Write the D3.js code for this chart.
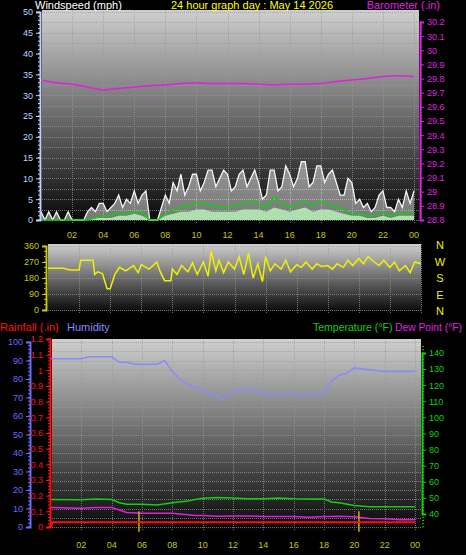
<!DOCTYPE html>
<html><head><meta charset="utf-8">
<script src="https://cdn.jsdelivr.net/npm/d3@7"></script>
<style>body{margin:0;background:#000}svg{display:block;font-family:"Liberation Sans",Arial,sans-serif}</style>
</head><body><div id="chart"></div>
<script>
// hours of day for half-hourly and quarter-hourly series
const halfHours = d3.range(0, 24.01, 0.5);
const quarterHours = d3.range(0, 24.01, 0.25);
const gust = [2,0,2,0,2,0,0,2, 0,0,0,0,2,3,2,4, 4,2,3,4,6,3,5,4, 7,4,6,7,0,0,0,3,
  6,4,9,7,11,6,8,11, 11,7,9,12,12,8,10,12, 11,7,8,11,12,8,10,12, 9,5,6,12,12,7,8,13,
  11,8,10,14,14,8,9,13, 13,9,11,12,9,6,6,10, 9,4,5,3,4,2,3,6, 7,3,3,2,5,3,7,4, 7];
const avgWind = [0,0,0,0,0,0,0,0.5,1,1,2,1.5,2,2,0,0,1.5,2.5,3,3.5,4,4,3.5,3,3,3.5,4,4.5,4,3,5.5,4,3,4,4.5,3.5,4.5,4,3,2.5,1.5,1.5,1,1,2,1,1.5,1.5,2];
const windSpeed = [0,0,0,0,0,0,0,0.5,0.5,0.5,1,1,1.5,1,0,0,1,1.5,2,2,2.5,2.5,2,2,2,2,2.5,2.5,2.5,2,3,2.5,2,2.5,3,2,2.5,2.5,2,1.5,1,1,0.5,0.5,1,0.5,1,1,1];
const baroHours = d3.range(0, 25);
const barometer = [29.79,29.77,29.76,29.74,29.72,29.73,29.74,29.75,29.755,29.765,29.77,29.765,29.765,29.765,29.76,29.755,29.76,29.76,29.765,29.78,29.79,29.80,29.815,29.82,29.815];
const dirHours = [0,1,1.4,2,2.1,2.9,3.0,3.2,3.5,3.8,4,4.3,4.6,5,5.5,5.8,6,6.5,7,7.2,7.5,7.9,8,8.3,8.6,9,9.3,9.6,10,10.3,10.5,10.8,11,11.3,11.6,12,12.3,12.6,12.9,13.2,13.5,13.8,14,14.3,14.6,15,15.3,15.6,16,16.3,16.6,17,17.3,17.6,18,18.3,18.6,19,19.3,19.6,20,20.3,20.6,21,21.3,21.6,22,22.3,22.6,23,23.3,23.6,24];
const windDir = [235,235,225,225,280,280,200,215,205,120,120,200,240,220,250,210,255,230,270,220,165,165,230,200,250,215,265,200,270,190,330,220,280,210,270,230,300,200,320,180,260,160,300,220,260,230,280,215,255,240,270,230,260,245,250,230,260,240,280,250,290,260,300,270,250,280,240,270,220,250,210,270,260];
const humHours = [0,1,2,2.5,3,4,4.5,5,5.5,6,7,7.5,8,8.5,9,9.5,10,10.5,11,11.3,12,13,13.5,14,14.5,15,16,16.5,17,17.5,18,18.5,19,19.5,20,21,22,23,24];
const humidity = [91,91,91,92,92,92,89,89,88,88,88,90,84,80,77,76,74,72,71,69,73,75,73,73,71,72,72,71,72,72,72,79,82,83,86,85,84,84,84];
const tempHours = [0,2,3,4,4.5,5,6,7,8,9,9.5,10,11,12,13,14,15,16,17,18,18.5,19,20,21,22,23,24];
const temperature = [49,48.8,49.3,49,47,46,46,45.6,47,48,49,49.8,50.3,50,49.5,49.5,50,49.5,49.3,49.3,47.5,47,45.3,44.5,44.5,44.5,44.5];
const dewPoint = [44,43.5,44,44,42.5,41,40.5,40.5,40.5,39.5,39,39,38.6,38.8,38.8,38.5,38.5,38.5,38,38.5,38.5,38.6,38.3,37.2,37,36.5,36.5];
const rainHours = [0,0.1,24];
const rainfall = [0,0.03,0.03];
const rainMarks = [5.8,20.3];
const hourTicks = [2,4,6,8,10,12,14,16,18,20,22,24];
const fmtHour = h => d3.format("02")(h % 24);

const svg = d3.select("#chart").append("svg").attr("width",466).attr("height",555);
const defs = svg.append("defs");
const grad = defs.append("linearGradient").attr("id","bg").attr("x1",0).attr("x2",0).attr("y1",0).attr("y2",1);
grad.append("stop").attr("offset","0%").attr("stop-color","#cfcfcf");
grad.append("stop").attr("offset","100%").attr("stop-color","#050505");

function panel(x0,x1,y0,y1){
  svg.append("rect").attr("x",x0).attr("y",y0).attr("width",x1-x0).attr("height",y1-y0).attr("fill","url(#bg)");
}
function grid(x, y, yTicks, x0, x1, y0, y1){
  const g = svg.append("g").attr("stroke","#9a9a9a").attr("stroke-width",1).attr("stroke-dasharray","1,1").attr("opacity",0.7);
  yTicks.forEach(v => g.append("line").attr("x1",x0).attr("x2",x1).attr("y1",Math.round(y(v))+0.5).attr("y2",Math.round(y(v))+0.5));
  hourTicks.forEach(h => g.append("line").attr("y1",y0).attr("y2",y1).attr("x1",Math.round(x(h))+0.5).attr("x2",Math.round(x(h))+0.5));
}
function xLabels(x, yPos){
  svg.append("g").selectAll("text").data(hourTicks).join("text")
    .attr("x", d => x(d)).attr("y", yPos).attr("text-anchor","middle")
    .attr("fill","#c8c800").attr("font-size",9).text(fmtHour);
}
function yAxis(scale, ticks, xPos, orient, color, fmt, minor){
  const ax = (orient==="left" ? d3.axisLeft(scale) : d3.axisRight(scale)).tickValues(ticks).tickSize(4).tickFormat(fmt);
  const g = svg.append("g").attr("transform",`translate(${xPos},0)`).call(ax);
  g.select(".domain").attr("stroke",color).attr("stroke-width",2);
  g.selectAll(".tick line").attr("stroke",color);
  g.selectAll("text").attr("fill",color).attr("font-size",9);
  if (minor) {
    svg.append("g").selectAll("line").data(minor).join("line")
      .attr("x1",xPos).attr("x2",orient==="left"?xPos-2:xPos+2)
      .attr("y1",d=>scale(d)).attr("y2",d=>scale(d)).attr("stroke",color);
  }
  return g;
}

// ---------- top panel: wind + barometer
const xT = d3.scaleLinear().domain([0,24]).range([41,414]);
const yW = d3.scaleLinear().domain([0,50]).range([220,12]);
const yB = d3.scaleLinear().domain([28.8,30.2]).range([220,22]);
panel(42,419,10,224);
grid(xT, yW, d3.range(0,51,2.5), 42,419,10,224);

svg.append("path").datum(quarterHours)
  .attr("fill","#ffffff").attr("opacity",0.45)
  .attr("d", d3.area().x(d=>xT(d)).y0(yW(0)).y1((d,i)=>yW(gust[i])));
svg.append("path").datum(quarterHours)
  .attr("fill","none").attr("stroke","#f4f4f4").attr("stroke-width",1.3)
  .attr("d", d3.line().x(d=>xT(d)).y((d,i)=>yW(gust[i])));
svg.append("path").datum(halfHours)
  .attr("fill","#b8f0b8").attr("opacity",0.85)
  .attr("d", d3.area().x(d=>xT(d)).y0(yW(0)).y1((d,i)=>yW(windSpeed[i])));
svg.append("path").datum(halfHours)
  .attr("fill","none").attr("stroke","#10d010").attr("stroke-width",1.5)
  .attr("d", d3.line().x(d=>xT(d)).y((d,i)=>yW(avgWind[i])));
svg.append("path").datum(baroHours)
  .attr("fill","none").attr("stroke","#e020e0").attr("stroke-width",1.5)
  .attr("d", d3.line().x(d=>xT(d)).y((d,i)=>yB(barometer[i])).curve(d3.curveMonotoneX));

yAxis(yW, d3.range(0,51,5), 40, "left", "#c0d0ff", d=>d, d3.range(0,51,1));
yAxis(yB, d3.range(28.8,30.21,0.1).map(v=>+v.toFixed(1)), 420, "right", "#e020e0", d=>d3.format("")(d), d3.range(28.8,30.21,0.02));
xLabels(xT, 238);
svg.append("text").attr("x",35).attr("y",9).attr("fill","#fff").attr("font-size",11).text("Windspeed (mph)");
svg.append("text").attr("x",252).attr("y",9).attr("fill","#ffff00").attr("font-size",11).attr("text-anchor","middle").text("24 hour graph day : May 14 2026");
svg.append("text").attr("x",440).attr("y",9).attr("fill","#e020e0").attr("font-size",11).attr("text-anchor","end").text("Barometer (.in)");

// ---------- middle panel: wind direction
const xD = d3.scaleLinear().domain([0,24]).range([48,421]);
const yD = d3.scaleLinear().domain([0,360]).range([310,246]);
panel(48,421,244,313);
grid(xD, yD, [0,90,180,270,360], 48,421,244,313);
svg.append("path").datum(dirHours)
  .attr("fill","none").attr("stroke","#f0f000").attr("stroke-width",1.5)
  .attr("d", d3.line().x(d=>xD(d)).y((d,i)=>yD(windDir[i])));
yAxis(yD, [0,90,180,270,360], 46, "left", "#c8c800", d=>d, d3.range(0,361,30));
svg.append("g").selectAll("text").data(["N","W","S","E","N"]).join("text")
  .attr("x",440).attr("y",(d,i)=>249+i*16.5).attr("fill","#f0f000").attr("font-size",11).attr("text-anchor","middle").text(d=>d);

// ---------- bottom panel: rain, humidity, temperature, dew point
const xB = d3.scaleLinear().domain([0,24]).range([51,415]);
const yH = d3.scaleLinear().domain([0,100]).range([527,342]);
const yR = d3.scaleLinear().domain([0,1.2]).range([527,339]);
const yTmp = d3.scaleLinear().domain([40,140]).range([514,353]);
panel(52,421,339,531);
grid(xB, yH, d3.range(0,101,5), 52,421,339,531);

svg.append("path").datum(humHours)
  .attr("fill","none").attr("stroke","#8a8aff").attr("stroke-width",1.5)
  .attr("d", d3.line().x(d=>xB(d)).y((d,i)=>yH(humidity[i])));
svg.append("path").datum(tempHours)
  .attr("fill","none").attr("stroke","#10d010").attr("stroke-width",1.5)
  .attr("d", d3.line().x(d=>xB(d)).y((d,i)=>yTmp(temperature[i])));
svg.append("path").datum(tempHours)
  .attr("fill","none").attr("stroke","#e020e0").attr("stroke-width",1.5)
  .attr("d", d3.line().x(d=>xB(d)).y((d,i)=>yTmp(dewPoint[i])));
svg.append("g").selectAll("line").data(rainMarks).join("line")
  .attr("x1",d=>xB(d)).attr("x2",d=>xB(d)).attr("y1",yR(0.1)).attr("y2",yR(-0.03))
  .attr("stroke","#c8b400").attr("stroke-width",1.5);
svg.append("path").datum(rainHours)
  .attr("fill","none").attr("stroke","#ff1010").attr("stroke-width",2)
  .attr("d", d3.line().x(d=>xB(d)).y((d,i)=>yR(rainfall[i])));

yAxis(yH, d3.range(0,101,10), 30, "left", "#6a6aff", d=>d, d3.range(0,101,2));
yAxis(yR, d3.range(0,1.21,0.1).map(v=>+v.toFixed(1)), 50, "left", "#ff1010", d=>d3.format("")(d), d3.range(0,1.21,0.02));
yAxis(yTmp, d3.range(40,141,10), 422, "right", "#10d010", d=>d, d3.range(32,146,2));
xLabels(xB, 548);
svg.append("text").attr("x",0).attr("y",331).attr("fill","#ff1010").attr("font-size",11).text("Rainfall (.in)");
svg.append("text").attr("x",67).attr("y",331).attr("fill","#8a8aff").attr("font-size",11).text("Humidity");
svg.append("text").attr("x",313).attr("y",331).attr("fill","#10d010").attr("font-size",10.5).text("Temperature (°F)");
svg.append("text").attr("x",395).attr("y",331).attr("fill","#e020e0").attr("font-size",10.5).attr("textLength",67).attr("lengthAdjust","spacingAndGlyphs").text("Dew Point (°F)");
</script></body></html>
